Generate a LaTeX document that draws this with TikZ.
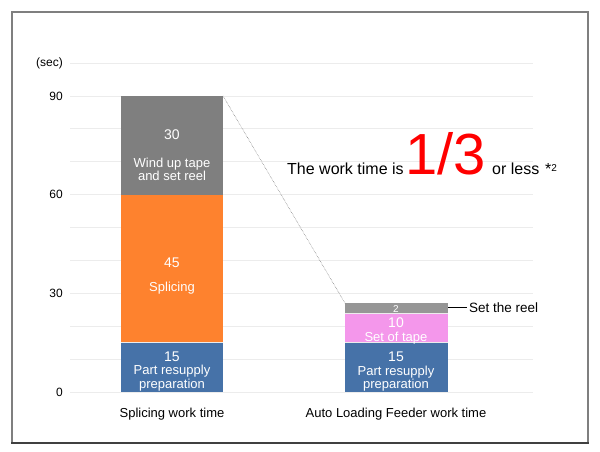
\documentclass[tikz,border=0pt]{standalone}
\usepackage{fontspec}
\setmainfont{Liberation Sans}
\definecolor{barblue}{HTML}{4672A8}
\definecolor{barorange}{HTML}{FE822E}
\definecolor{bargray}{HTML}{7F7F7F}
\definecolor{barpink}{HTML}{F497EB}
\definecolor{barlight}{HTML}{969696}
\definecolor{gridgray}{HTML}{ECECEC}
\begin{document}
\begin{tikzpicture}[x=1pt,y=3.29pt,
  gridline/.style={draw=gridgray,line width=0.6pt},
  ticklab/.style={anchor=east,inner sep=0pt,font=\fontsize{12}{12}\selectfont},
  val/.style={text=white,inner sep=0pt,font=\fontsize{14}{14}\selectfont},
  lab/.style={text=white,inner sep=0pt,align=center,font=\fontsize{13}{12}\selectfont},
  cat/.style={anchor=base,inner sep=0pt,font=\fontsize{13}{13}\selectfont}]
\useasboundingbox (0,-18.237) rectangle (600,119.149);
% frame
\draw[bargray,line width=2pt] (12,-15.35) -- (12,115.35) -- (587.5,115.35) -- (587.5,-15.35);
\draw[black!75,line width=2pt] (11,-15.35) -- (588.5,-15.35);
% grid and axis labels
\foreach \v in {0,10,...,100}
	\draw[gridline] (70,\v) -- (533,\v);
\foreach \v in {0,30,60,90}
	\node[ticklab] at (63,\v) (t\v) {\v};
\node[ticklab] at (63,100) (unit) {(sec)};
% bars
\foreach \lo/\hi/\col in {0/15/barblue,15/60/barorange,60/90/bargray}
	\fill[\col] (121,\lo) rectangle (223,\hi);
\foreach \lo/\hi/\col in {0/15/barblue,15/24/barpink,24/27/barlight}
	\fill[\col] (345,\lo) rectangle (448,\hi);
\draw[white!85!gray,line width=0.5pt] (121,15) -- (223,15) (345,15) -- (448,15) (345,24) -- (448,24);
\coordinate (s90) at (223,90);
\coordinate (a27) at (345,27);
\coordinate (a25) at (448,25.6);
\draw[gray!80!black,densely dotted,line width=0.5pt] (s90) -- (a27);
% splicing bar texts
\node[val] at (172,78.1) (v30) {30};
\node[lab] at (172,67.6) (l30) {Wind up tape\\and set reel};
\node[val] at (172,39.2) (v45) {45};
\node[lab] at (172,31.6) (l45) {Splicing};
\node[val] at (172,10.6) (v15) {15};
\node[lab] at (172,4.2) (l15) {Part resupply\\preparation};
% feeder bar texts
\node[val,font=\fontsize{10}{10}\selectfont] at (396,25.3) (v2) {2};
\node[val] at (396,21.0) (v10) {10};
\node[lab] at (396,16.4) (l10) {Set of tape};
\node[val] at (396,10.6) (w15) {15};
\node[lab] at (396,4.0) (w15l) {Part resupply\\preparation};
\node[anchor=west,inner sep=2pt,font=\fontsize{13.5}{13.5}\selectfont] at (467,25.6) (reel) {Set the reel};
\draw[black,line width=0.6pt] (a25) -- (reel.west);
% categories
\node[cat] at (172,-7.9) (c1) {Splicing work time};
\node[cat] at (396,-7.9) (c2) {Auto Loading Feeder work time};
% message
\node[anchor=base west,inner sep=0pt,font=\fontsize{16}{16}\selectfont] at (287,66) (msg) {The work time is};
\node[anchor=base west,inner sep=0pt,text=red,font=\fontsize{58}{58}\selectfont] at (405,66) (ratio) {1/3};
\node[anchor=base west,inner sep=0pt,font=\fontsize{16}{16}\selectfont] at (492,66) (less) {or less};
\node[anchor=base west,inner sep=0pt,font=\fontsize{16}{16}\selectfont] at (545,66) (note) {*\fontsize{10}{10}\selectfont\raisebox{3pt}{2}};
\end{tikzpicture}
\end{document}
